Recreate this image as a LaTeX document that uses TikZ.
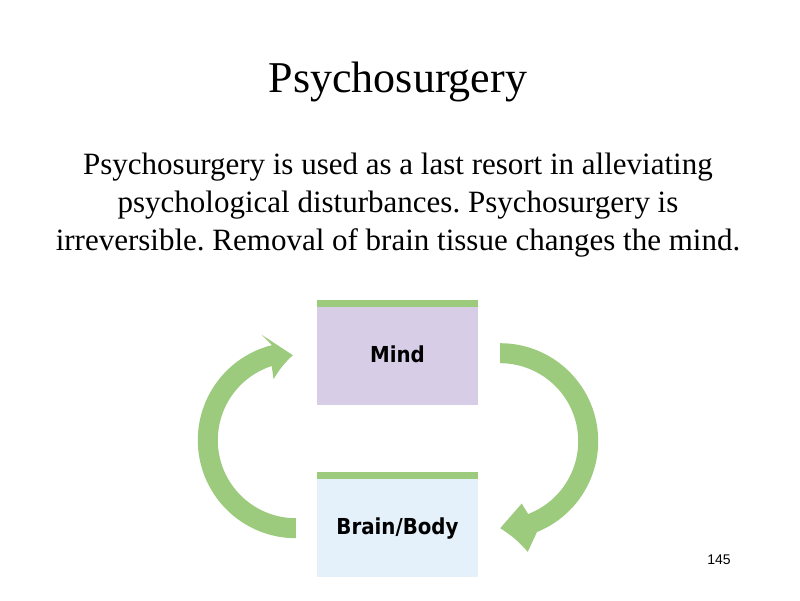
\documentclass[tikz,border=0pt]{standalone}
\usepackage{fontspec}
\setmainfont{Liberation Serif}
\newfontfamily\boxfont{DejaVu Sans Condensed}
\newfontfamily\numfont{Liberation Sans}
\usetikzlibrary{positioning, calc}

\definecolor{cyclegreen}{HTML}{9CCB7D}
\definecolor{mindlilac}{HTML}{D8CDE6}
\definecolor{bodyblue}{HTML}{E4F0FA}

\tikzset{
    levelbox/.style={minimum width=161pt, minimum height=98pt, inner sep=0pt, font=\boxfont\bfseries\fontsize{22}{26}\selectfont},
    cyclefill/.style={fill=cyclegreen},
}

\begin{document}
\frenchspacing
\begin{tikzpicture}[node distance=10pt]
    \fill[white] (0,0) rectangle (800pt,600pt);
    \useasboundingbox (0,0) rectangle (800pt,600pt);

    \node[anchor=base, font=\fontsize{44}{52}\selectfont] (Title) at (398pt,507pt) {Psychosurgery};
    \node[anchor=base, align=center, font=\fontsize{31}{38}\selectfont] (Intro) at (398pt,349pt)
        {Psychosurgery is used as a last resort in alleviating\\
         psychological disturbances. Psychosurgery is\\
         irreversible. Removal of brain tissue changes the mind.};

    \node[levelbox, fill=mindlilac]                      (Mind)  at (397.5pt,244pt) {\raisebox{3pt}{Mind}};
    \node[levelbox, fill=bodyblue, below=74pt of Mind]   (Brain) {Brain/Body};
    \fill[cyclegreen] (Mind.north west) rectangle ([yshift=7pt]Mind.north east);
    \fill[cyclegreen] (Brain.north west) rectangle ([yshift=7pt]Brain.north east);

    \coordinate (Left Hub)  at ($(Mind.west)!0.5!(Brain.west)+(-21pt,2pt)$);
    \coordinate (Right Hub) at ($(Mind.east)!0.5!(Brain.east)+(22pt,1pt)$);

    % brain -> mind
    \fill[cyclefill] ($(Left Hub)+(270:78pt)$) arc[start angle=270, end angle=108, radius=78pt]
        -- ($(Left Hub)+(110:65pt)$) to[bend left=8] ($(Left Hub)+(92:85pt)$)
        -- ($(Left Hub)+(108:111pt)$)
        -- ($(Left Hub)+(104:98pt)$) arc[start angle=104, end angle=270, radius=98pt] -- cycle;
    % mind -> brain
    \fill[cyclefill] ($(Right Hub)+(90:98pt)$) arc[start angle=90, end angle=-68, radius=98pt]
        -- ($(Right Hub)+(-76:114pt)$) to[bend right=8] ($(Right Hub)+(-90:87pt)$)
        -- ($(Right Hub)+(-71:66pt)$)
        -- ($(Right Hub)+(-69:78pt)$) arc[start angle=-69, end angle=90, radius=78pt] -- cycle;

    \node[font=\numfont\fontsize{14}{16}\selectfont] (Page) at (719pt,40pt) {145};
\end{tikzpicture}
\end{document}
